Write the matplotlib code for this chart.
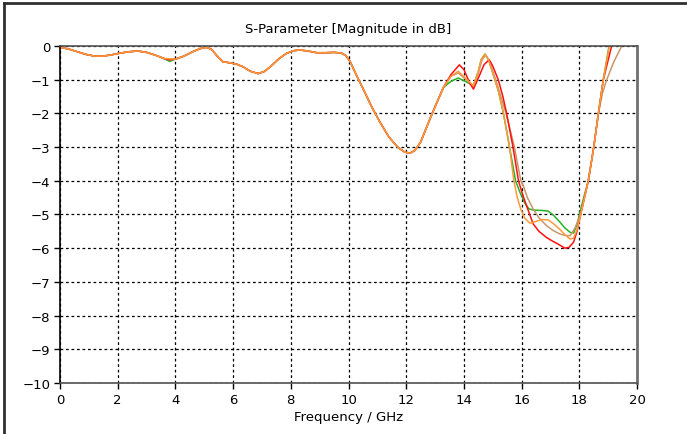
import numpy as np
import matplotlib
matplotlib.use("Agg")
import matplotlib.pyplot as plt
from matplotlib.lines import Line2D

# shared part of all curves (0 .. 13.55 GHz)
f_low = [0, 0.3, 0.6, 0.9, 1.2, 1.5, 1.8, 2.1, 2.4, 2.7, 3.0, 3.3, 3.6, 3.8, 4.0,
         4.3, 4.6, 4.85, 5.08, 5.25, 5.45, 5.65, 5.9, 6.12, 6.35, 6.6, 6.87, 7.1,
         7.35, 7.6, 7.85, 8.1, 8.32, 8.6, 8.9, 9.2, 9.5, 9.75, 9.9, 10.05, 10.2,
         10.35, 10.51, 10.8, 11.09, 11.4, 11.7, 11.95, 12.13, 12.3, 12.5, 12.82,
         13.05, 13.29]
s_low = [-0.04, -0.09, -0.17, -0.25, -0.3, -0.3, -0.26, -0.21, -0.17, -0.15, -0.19,
         -0.27, -0.37, -0.41, -0.39, -0.3, -0.17, -0.08, -0.04, -0.1, -0.3, -0.47,
         -0.5, -0.54, -0.62, -0.75, -0.82, -0.75, -0.57, -0.37, -0.22, -0.14, -0.12,
         -0.15, -0.2, -0.2, -0.19, -0.21, -0.28, -0.45, -0.73, -1.0, -1.28, -1.8,
         -2.26, -2.7, -3.0, -3.15, -3.18, -3.1, -2.85, -2.17, -1.7, -1.23]

# upper band, one list per curve
f_green = [13.55, 13.8, 14.05, 14.33, 14.5, 14.6, 14.73, 14.85, 15.0, 15.2, 15.37,
           15.58, 15.79, 15.94, 16.1, 16.25, 16.4, 16.7, 16.92, 17.1, 17.3, 17.5,
           17.68, 17.8, 17.92, 18.02, 18.15, 18.31, 18.5, 18.66, 18.83, 19.0, 19.1]
s_green = [-1.05, -0.95, -1.05, -1.18, -0.75, -0.4, -0.24, -0.4, -0.8, -1.35, -2.0,
           -3.0, -4.0, -4.34, -4.65, -4.83, -4.87, -4.88, -4.9, -5.02, -5.2, -5.4,
           -5.53, -5.55, -5.3, -4.94, -4.5, -4.0, -3.0, -2.0, -1.0, -0.15, 0.4]

f_orange = [13.55, 13.8, 14.05, 14.33, 14.5, 14.6, 14.73, 14.85, 15.0, 15.2, 15.37,
            15.58, 15.73, 15.85, 15.97, 16.1, 16.29, 16.45, 16.7, 16.92, 17.1, 17.3,
            17.5, 17.68, 17.8, 17.92, 18.02, 18.15, 18.31, 18.5, 18.66, 18.83, 19.04,
            19.15]
s_orange = [-0.9, -0.75, -0.95, -1.18, -0.75, -0.4, -0.24, -0.4, -0.8, -1.35, -2.0,
            -3.0, -4.0, -4.5, -4.84, -5.1, -5.26, -5.22, -5.15, -5.16, -5.27, -5.42,
            -5.6, -5.73, -5.7, -5.45, -5.1, -4.6, -4.0, -3.0, -2.0, -1.0, 0.0, 0.4]

f_tan = [13.55, 13.8, 14.05, 14.33, 14.5, 14.62, 14.75, 14.88, 15.1, 15.3, 15.46,
         15.75, 15.97, 16.06, 16.2, 16.4, 16.6, 16.86, 17.1, 17.33, 17.5, 17.68,
         17.85, 18.02, 18.1, 18.31, 18.5, 18.66, 18.8, 18.95, 19.18, 19.35, 19.47,
         19.7]
s_tan = [-0.9, -0.8, -0.98, -1.2, -0.8, -0.43, -0.27, -0.45, -1.0, -1.55, -2.0,
         -3.0, -4.0, -4.15, -4.5, -4.84, -5.1, -5.33, -5.48, -5.58, -5.62, -5.63,
         -5.4, -5.04, -4.8, -4.0, -3.0, -2.0, -1.4, -1.0, -0.5, -0.2, 0.0, 0.4]

f_red = [13.55, 13.84, 14.0, 14.2, 14.33, 14.5, 14.7, 14.88, 15.0, 15.19, 15.35,
         15.48, 15.7, 15.89, 16.05, 16.17, 16.4, 16.6, 16.86, 17.05, 17.27, 17.5,
         17.65, 17.8, 17.92, 18.02, 18.15, 18.31, 18.5, 18.66, 18.83, 19.12, 19.25]
s_red = [-0.85, -0.56, -0.7, -1.1, -1.28, -0.95, -0.55, -0.41, -0.6, -1.0, -1.5,
         -2.0, -3.0, -4.0, -4.45, -4.74, -5.28, -5.5, -5.68, -5.78, -5.88, -6.0,
         -5.97, -5.82, -5.5, -5.1, -4.6, -4.0, -3.0, -2.0, -1.0, 0.0, 0.4]

green_dip = -0.46   # green goes a little deeper at 3.8 GHz
orange_dip = -0.38

fig = plt.figure(figsize=(6.87, 4.35), dpi=100)
ax = fig.add_axes([0.0873, 0.1172, 0.840, 0.7748])

def full(f_hi, s_hi, dip=None):
    s = list(s_low)
    if dip is not None:
        s[f_low.index(3.8)] = dip
    return f_low + f_hi, s + s_hi

for fh, sh, dip, col in [(f_green, s_green, green_dip, "#22b422"),
                         (f_tan, s_tan, None, "#c8966a"),
                         (f_red, s_red, None, "#ff1010"),
                         (f_orange, s_orange, orange_dip, "#ff9a3c")]:
    x, y = full(fh, sh, dip)
    ax.plot(x, y, color=col, lw=1.1, solid_joinstyle="round")

ax.set_xlim(0, 20)
ax.set_ylim(-10, 0)
ax.set_xticks(range(0, 21, 2))
ax.set_yticks(range(-10, 1))
ax.grid(True, color="black", linestyle=(0, (2.2, 2.2)), lw=0.9)

ax.tick_params(direction="out", length=4, width=1, colors="black", labelsize=9.5, pad=3)
ax.spines["left"].set_color("black")
ax.spines["bottom"].set_color("#505050")
ax.spines["top"].set_color("#505050")
ax.spines["right"].set_color("#707070")
ax.spines["right"].set_linewidth(2)
for s in ["left", "bottom", "top"]:
    ax.spines[s].set_linewidth(1.2)

ax.set_title("S-Parameter [Magnitude in dB]", fontsize=9.5, pad=10)
ax.set_xlabel("Frequency / GHz", fontsize=9.5, labelpad=3)

# frame of the panel, top and left edge only
fig.add_artist(Line2D([0.006, 0.006], [0, 0.99], transform=fig.transFigure,
                      color="#303030", lw=2))
fig.add_artist(Line2D([0.006, 1.0], [0.99, 0.99], transform=fig.transFigure,
                      color="#303030", lw=2))

fig.savefig("out.png", dpi=100)
